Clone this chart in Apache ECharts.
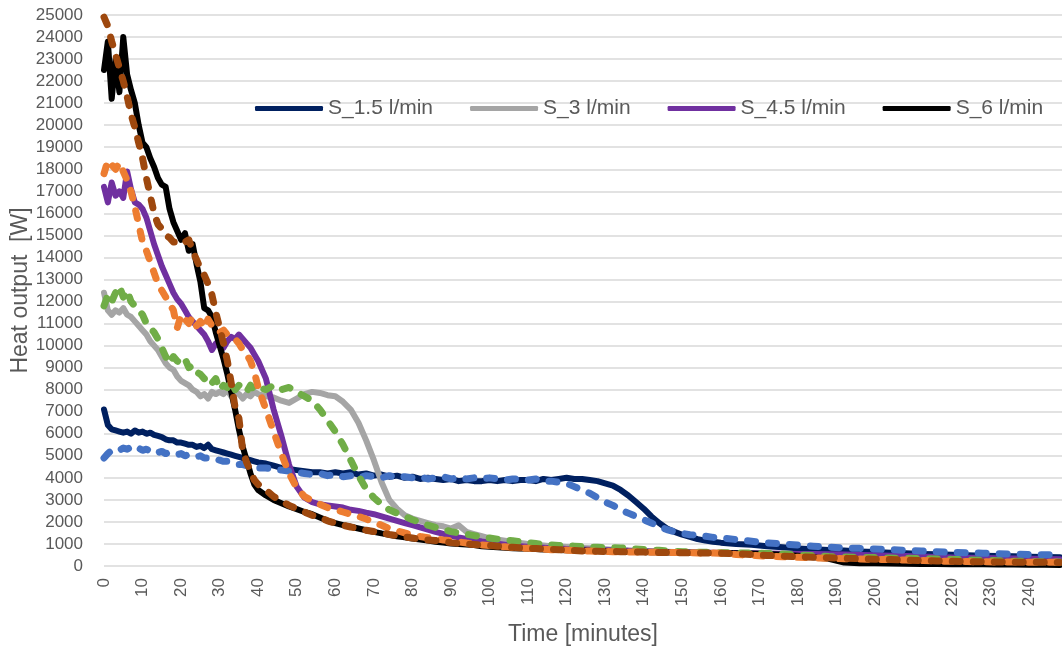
<!DOCTYPE html>
<html>
<head>
<meta charset="utf-8">
<script src="https://cdn.jsdelivr.net/npm/echarts@6/dist/echarts.min.js"></script>
<style>html,body{margin:0;padding:0;background:#fff}#c{width:1062px;height:648px}</style>
</head>
<body>
<div id="c"></div>
<script>
// Time stamps [minutes]
const time = [0,1,2,3,4,5,6,7,8,9,10,11,12,13,14,15,16,17,18,19,20,21,22,23,24,25,26,27,28,29,30,31,32,33,34,35,36,37,38,39,40,
42,44,46,48,50,52,54,56,58,60,62,64,66,68,70,72,74,76,78,80,82,84,86,88,90,92,94,96,98,100,102,104,106,108,110,112,114,116,118,120,122,124,126,128,130,132,134,136,138,140,142,144,146,148,150,152,154,156,158,160,
164,168,172,176,180,184,188,192,196,200,204,208,212,216,220,224,228,232,236,240,244,248];

// Heat output [W] - solid series (legend)
const s15 = [7100,6400,6200,6150,6100,6050,6100,6000,6150,6050,6100,6000,6050,5950,5900,5850,5750,5700,5700,5600,5600,5550,5500,5500,5400,5450,5350,5500,5300,5250,5200,5150,5100,5050,5000,4950,4900,4850,4800,4750,4700,
4650,4550,4450,4400,4350,4300,4250,4250,4200,4250,4200,4250,4150,4200,4100,4150,4050,4100,4000,4050,3950,4000,3950,3900,3950,3850,3900,3850,3850,3900,3850,3900,3850,3900,3900,3850,3950,3900,3950,4000,3950,3950,3900,3850,3750,3650,3450,3200,2900,2600,2250,1950,1700,1550,1420,1320,1220,1150,1100,1060,
1000,960,900,850,800,760,730,700,660,630,600,580,550,530,510,490,470,450,440,420,410,400];
const s3 = [12400,11600,11400,11600,11500,11700,11400,11300,11100,10900,10700,10500,10200,10000,9800,9500,9200,9000,8900,8600,8400,8300,8200,8000,7900,7700,7800,7600,7900,7800,7900,7800,8000,7700,7900,7800,7600,7800,7700,7900,7800,
7700,7650,7500,7400,7600,7800,7900,7850,7750,7700,7450,7100,6500,5700,4800,3800,3000,2600,2300,2150,2050,1950,1850,1800,1700,1850,1550,1450,1350,1250,1200,1150,1100,1050,1000,960,930,900,880,860,840,820,800,780,760,740,720,700,690,680,670,660,650,640,630,620,610,600,590,580,
560,540,520,490,460,430,400,380,360,340,320,300,290,280,270,260,250,240,230,220,210,200];
const s45 = [17200,16500,17400,16800,17000,16700,17900,17100,16500,16400,16200,15800,15200,14600,14100,13600,13200,12800,12400,12100,11900,11600,11300,11100,10900,10700,10500,10200,9800,10100,10000,9900,10200,10400,10300,10500,10300,10100,9900,9600,9300,
8500,7100,5900,4600,3600,3100,2900,2800,2750,2700,2650,2550,2500,2420,2350,2250,2150,2050,1950,1850,1750,1650,1550,1460,1380,1300,1230,1170,1110,1060,1010,970,930,900,870,850,830,810,790,770,760,750,740,730,720,710,700,690,680,670,660,650,640,630,620,615,610,605,600,595,
590,580,570,560,550,540,530,520,500,490,470,450,430,410,390,370,360,350,340,330,320,310];
const s6 = [22500,23800,21200,23000,21500,24000,22300,21600,21000,20000,19200,19000,18500,18100,17600,17300,17200,16200,15600,15200,14800,15100,14300,14600,13700,12900,11700,11600,11300,10600,10000,9400,8700,7900,7100,6200,5400,4800,4200,3700,3450,
3200,3000,2850,2700,2580,2450,2350,2200,2050,1950,1850,1780,1700,1620,1550,1480,1420,1350,1300,1250,1200,1150,1100,1060,1020,1000,980,950,900,870,850,830,810,790,780,770,750,740,730,720,710,700,690,680,670,660,650,640,635,630,625,620,615,610,600,600,595,595,590,590,
580,570,550,510,460,400,330,160,130,120,110,100,95,90,85,80,75,70,65,60,55,50];

// Heat output [W] - dashed series (no legend entry)
const s15d = [4900,5100,5250,5300,5250,5350,5300,5400,5300,5350,5250,5300,5200,5250,5150,5200,5100,5150,5100,5050,5100,5000,5050,5000,4950,5000,4900,4900,4850,4850,4800,4750,4750,4700,4650,4600,4600,4550,4500,4500,4450,
4450,4400,4350,4300,4250,4200,4150,4200,4100,4150,4050,4100,4000,4100,4050,4000,4100,4000,4050,4000,4050,3950,4000,4050,3950,4000,3950,4000,3950,4000,3950,3900,3950,3950,3900,3950,3850,3850,3800,3750,3600,3450,3300,3100,2900,2750,2550,2400,2250,2100,1950,1800,1650,1550,1480,1420,1400,1350,1300,1280,
1200,1120,1050,1000,950,900,860,820,800,770,740,710,680,650,620,600,580,560,540,520,510,500];
const s3d = [11800,12300,12000,12400,12700,12200,12500,12000,11800,11600,11400,11000,10800,10600,10300,9900,9500,9200,9500,9300,9200,9400,9000,9100,8800,8700,8500,8600,8300,8500,8000,8200,8100,8400,8000,8200,8100,7900,8200,8000,8100,
8000,8200,8000,8100,7900,7700,7500,7100,6600,6100,5500,4800,4100,3500,3100,2800,2550,2400,2250,2100,1980,1850,1750,1660,1560,1500,1440,1380,1320,1270,1220,1180,1150,1100,1060,1020,980,950,930,910,900,880,860,850,840,830,820,790,770,750,730,710,690,670,650,640,630,620,610,600,
590,590,570,540,500,470,430,410,390,380,360,350,330,320,300,280,260,240,220,200,190,180];
const s45d = [17800,18400,18200,18000,18300,17900,17500,17000,16300,15500,14700,14300,13800,13300,12800,12500,12200,11900,11600,10800,11400,11200,11000,11300,10900,11100,10800,11200,10900,10700,10600,10700,10500,10400,10300,10100,9800,9600,9300,8800,8100,
7100,6100,5100,4200,3550,3150,2950,2800,2650,2550,2450,2350,2250,2130,2000,1850,1700,1600,1500,1420,1340,1280,1230,1180,1150,1090,1040,1000,960,930,900,870,840,820,800,780,760,740,730,720,700,690,680,670,660,650,645,640,635,630,625,620,615,610,605,600,595,590,585,580,
520,480,450,420,400,370,350,330,320,300,290,270,250,230,210,200,190,185,180,175,170,165];
const s6d = [24900,24500,23800,23200,22600,22000,21300,20500,19900,19200,18500,17600,16800,16000,15500,15300,15000,14900,14700,14700,14600,14700,14800,14300,13900,13500,13200,12800,12300,11500,10800,10100,9300,8300,7200,6700,5200,4700,4300,3900,3700,
3450,3150,2950,2750,2600,2450,2300,2200,2050,1950,1850,1770,1700,1620,1560,1500,1430,1380,1320,1270,1220,1180,1160,1100,1060,1030,1000,980,950,930,900,880,850,820,800,790,770,760,740,720,700,680,670,665,660,655,650,640,635,630,620,615,610,605,600,595,590,590,585,580,
560,520,480,450,420,400,370,350,330,310,290,270,250,230,210,200,190,180,175,170,165,160];

const legendNames = ['S_1.5 l/min','S_3 l/min','S_4.5 l/min','S_6 l/min'];
const yTicks = {min: 0, max: 25000, step: 1000};
const xTicks = {min: 0, max: 248.5, step: 10};

function pairs(v){ return time.map((t,i)=>[t, v[i]]); }

const FONT = '"Liberation Sans", Arial, sans-serif';
const TXT = '#595959';

function solid(name, data, color){
  return {name, type:'line', data: pairs(data), symbol:'none', showSymbol:false,
    color, itemStyle:{color}, lineStyle:{color, width:6, cap:'round', join:'round'}, emphasis:{disabled:true}, z:2};
}
function dashed(name, data, color){
  return {name, type:'line', data: pairs(data), symbol:'none', showSymbol:false,
    color, itemStyle:{color}, lineStyle:{color, width:7, type:[8,13], cap:'round', join:'round'}, emphasis:{disabled:true}, z:3};
}

const chart = echarts.init(document.getElementById('c'), null, {renderer:'canvas'});
chart.setOption({
  animation:false,
  backgroundColor:'#ffffff',
  textStyle:{fontFamily:FONT},
  grid:{left:104, right:0, top:15, bottom:82, outerBoundsMode:'none', containLabel:false},
  legend:{
    data: legendNames, left:250, top:93, icon:'roundRect', itemWidth:68, itemHeight:5, itemGap:37,
    textStyle:{fontFamily:FONT, fontSize:21, color:TXT}
  },
  xAxis:{
    type:'value', min:xTicks.min, max:xTicks.max, interval:xTicks.step,
    name:'Time [minutes]', nameLocation:'middle', nameGap:57, nameMoveOverlap:false,
    nameTextStyle:{fontFamily:FONT, fontSize:23, color:TXT},
    axisLine:{show:false}, axisTick:{show:false}, splitLine:{show:false},
    axisLabel:{rotate:90, margin:12, fontSize:17, color:TXT, fontFamily:FONT, showMaxLabel:false}
  },
  yAxis:{
    type:'value', min:yTicks.min, max:yTicks.max, interval:yTicks.step,
    name:'Heat output  [W]', nameLocation:'middle', nameGap:72, nameMoveOverlap:false,
    nameTextStyle:{fontFamily:FONT, fontSize:23, color:TXT},
    axisLine:{show:false}, axisTick:{show:false},
    splitLine:{lineStyle:{color:'#d9d9d9', width:1.5}},
    axisLabel:{margin:21, fontSize:17, color:TXT, fontFamily:FONT, formatter:(v)=>String(v)}
  },
  series:[
    solid('S_1.5 l/min', s15, '#002060'),
    solid('S_3 l/min', s3, '#A5A5A5'),
    solid('S_4.5 l/min', s45, '#7030A0'),
    solid('S_6 l/min', s6, '#000000'),
    dashed('S_1.5 l/min (b)', s15d, '#4472C4'),
    dashed('S_3 l/min (b)', s3d, '#70AD47'),
    dashed('S_4.5 l/min (b)', s45d, '#ED7D31'),
    dashed('S_6 l/min (b)', s6d, '#9E480E')
  ]
});
</script>
</body>
</html>
